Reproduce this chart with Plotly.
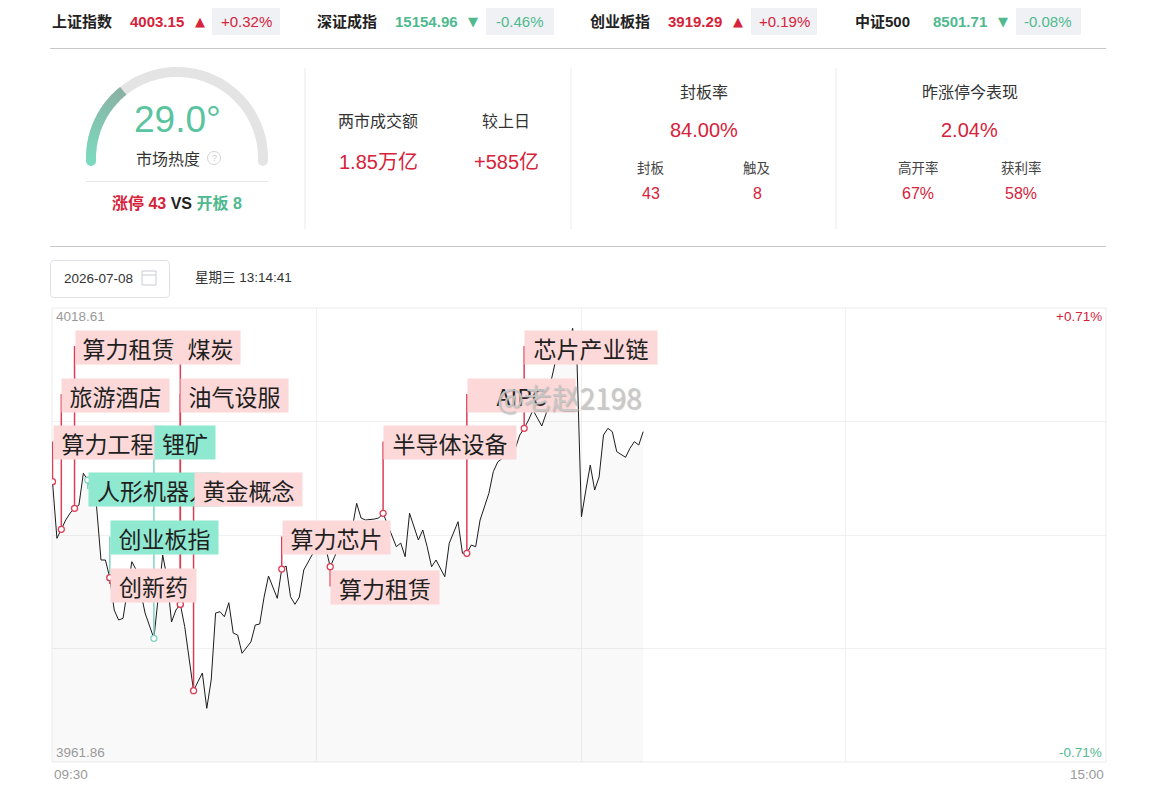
import math
import plotly.graph_objects as go

# ---------------- data ----------------
index_names = ["上证指数", "深证成指", "创业板指", "中证500"]
index_values = ["4003.15", "15154.96", "3919.29", "8501.71"]
index_changes = ["+0.32%", "-0.46%", "+0.19%", "-0.08%"]
index_up = [True, False, True, False]

heat_value = 29.0
limit_up_count = 43
broken_count = 8
turnover_label = "两市成交额"
turnover_value = "1.85万亿"
diff_label = "较上日"
diff_value = "+585亿"
seal_title = "封板率"
seal_rate = "84.00%"
seal_sub_labels = ["封板", "触及"]
seal_sub_values = ["43", "8"]
yest_title = "昨涨停今表现"
yest_value = "2.04%"
yest_sub_labels = ["高开率", "获利率"]
yest_sub_values = ["67%", "58%"]

date_text = "2026-07-08"
time_text = "星期三 13:14:41"

price_max = 4018.61
price_min = 3961.86
pct_top = "+0.71%"
pct_bottom = "-0.71%"
time_start = "09:30"
time_end = "15:00"

# intraday index (minutes after 09:30, trading minutes; price)
minutes = [0, 1, 2, 3, 4, 5, 6, 7, 8, 9, 10, 11, 12, 13, 14, 15, 16, 18, 19, 20,
           21, 23, 25, 26, 27, 28, 29, 30, 32, 33, 34, 35, 36, 37, 38, 39, 40, 41, 42, 43,
           44, 45, 46, 47, 48, 49, 51, 52, 53, 54, 55, 56, 57, 59, 60, 61, 62, 63, 64, 65,
           68, 69, 70, 71, 73, 74, 75, 78, 79, 80, 81, 83, 84, 85, 86, 87, 89, 90, 92, 93,
           94, 95, 96, 97, 99, 100, 101, 103, 104, 105, 106, 107, 108, 109, 111, 112, 113, 114, 115, 116,
           117, 118, 119, 120, 121, 122, 123, 124, 125, 126, 127, 128, 130, 131, 132, 133, 134]
prices = [3996.90, 3989.82, 3990.95, 3992.11, 3992.98, 3993.57, 3993.98, 3997.95, 3997.11, 3995.23,
          3993.77, 3987.11, 3987.11, 3984.90, 3980.86, 3979.61, 3979.82, 3986.90, 3985.86, 3983.36,
          3980.48, 3977.32, 3987.73, 3984.86, 3979.36, 3980.86, 3981.57, 3978.77, 3970.77, 3971.90,
          3972.98, 3968.57, 3972.11, 3980.48, 3980.65, 3980.02, 3981.77, 3977.98, 3977.73, 3975.45,
          3976.23, 3976.86, 3978.98, 3979.11, 3982.48, 3985.11, 3982.32, 3985.98, 3986.36, 3982.52,
          3981.57, 3982.48, 3985.86, 3987.86, 3989.36, 3989.61, 3988.61, 3986.27, 3987.52, 3988.98,
          3991.11, 3994.20, 3992.36, 3992.11, 3992.23, 3992.36, 3992.95, 3988.77, 3989.23, 3987.52,
          3992.95, 3989.61, 3990.86, 3988.77, 3986.27, 3987.11, 3985.02, 3989.20, 3991.90, 3987.95,
          3987.95, 3988.98, 3988.77, 3992.11, 3995.45, 3998.15, 3999.36, 4000.23, 4000.86, 4001.07,
          4002.73, 4003.57, 4004.61, 4005.86, 4003.86, 4005.45, 4009.23, 4011.70, 4013.11, 4014.36,
          4013.86, 4016.07, 4011.70, 3992.52, 3995.86, 3998.98, 3995.86, 3997.48, 4002.73, 4003.57,
          4003.15, 4000.65, 3999.95, 4001.07, 4001.90, 4001.48, 4003.15]

# sector events on the curve
event_names = ["算力工程", "旅游酒店", "算力租赁", "人形机器人", "创业板指", "创新药", "锂矿",
               "煤炭", "油气设服", "黄金概念", "算力芯片", "算力租赁", "半导体设备", "AIPC", "芯片产业链"]
event_minutes = [0, 2, 5, 8, 13, 13, 23, 29, 29, 32, 52, 63, 75, 94, 107]
event_kinds = ["up", "up", "up", "down", "down", "up", "down",
               "up", "up", "up", "up", "up", "up", "up", "up"]

# ---------------- layout config (pixels) ----------------
W, H = 1150, 789
PX0, PX1, PY0, PY1 = 52, 1106, 308, 762
ORIGIN, PPM = 52.5, 4.408
label_tops = [425, 377.5, 329.5, 472.5, 520, 567.5, 425, 329.5, 377.5, 472.5, 520, 570, 425, 377.5, 329.5]
label_widths = [107, 107, 105, 131, 107, 85, 60, 59, 107, 107, 107, 108, 132, 107, 132]
LABEL_H = 33

RED = "#d6223a"
TEAL = "#4fb98f"
GREY_TXT = "#9a9a9a"
DARK = "#222222"
FONT = "Liberation Sans, Noto Sans CJK SC, sans-serif"
CJK = "Noto Sans CJK SC, sans-serif"


def fx(x):
    return x / W


def fy(y):
    return 1 - y / H


def price_at_px(ypx):
    return price_max - (ypx - PY0) / (PY1 - PY0) * (price_max - price_min)


annotations = []
shapes = []


def txt(x, y, text, size, color, xanchor="center", bold=False, family=FONT):
    annotations.append(dict(x=fx(x), y=fy(y), xref="paper", yref="paper", text=text,
                            showarrow=False, xanchor=xanchor, yanchor="middle",
                            font=dict(size=size, color=color, family=family,
                                      weight="bold" if bold else "normal")))


def hline(x0, x1, y, color, width=1):
    shapes.append(dict(type="line", xref="paper", yref="paper", x0=fx(x0), x1=fx(x1),
                       y0=fy(y), y1=fy(y), line=dict(color=color, width=width)))


def vline(x, y0, y1, color, width=1):
    shapes.append(dict(type="line", xref="paper", yref="paper", x0=fx(x), x1=fx(x),
                       y0=fy(y0), y1=fy(y1), line=dict(color=color, width=width)))


def rect(x0, y0, x1, y1, fill, line=None):
    shapes.append(dict(type="rect", xref="paper", yref="paper", x0=fx(x0), x1=fx(x1),
                       y0=fy(y1), y1=fy(y0), fillcolor=fill,
                       line=dict(color=line or fill, width=1 if line else 0)))


def circle(cx, cy, r, fill, line=None, lw=1):
    shapes.append(dict(type="circle", xref="paper", yref="paper", x0=fx(cx - r), x1=fx(cx + r),
                       y0=fy(cy + r), y1=fy(cy - r), fillcolor=fill,
                       line=dict(color=line or fill, width=lw if line else 0)))


def rrect_path(x0, y0, x1, y1, r):
    p = lambda x, y: f"{fx(x):.5f},{fy(y):.5f}"
    return (f"M {p(x0 + r, y0)} L {p(x1 - r, y0)} Q {p(x1, y0)} {p(x1, y0 + r)} "
            f"L {p(x1, y1 - r)} Q {p(x1, y1)} {p(x1 - r, y1)} L {p(x0 + r, y1)} "
            f"Q {p(x0, y1)} {p(x0, y1 - r)} L {p(x0, y0 + r)} Q {p(x0, y0)} {p(x0 + r, y0)} Z")


# ---------------- header row ----------------
hdr_x = [(50, 128, 193, (212, 280), 246), (315, 393, 466, (486, 554), 520),
         (588, 666, 731, (751, 817), 784), (853, 931, 996, (1016, 1081), 1048)]
for (nx, vx, ax, (bx0, bx1), cx), name, val, chg, up in zip(hdr_x, index_names, index_values,
                                                            index_changes, index_up):
    col = RED if up else TEAL
    rect(bx0, 8, bx1, 35, "#f0f1f5")
    txt(nx, 21, name, 15, DARK, "left", True)
    txt(vx, 21, val, 15, col, "left", True)
    txt(ax, 21, "▲" if up else "▼", 13, col, "left", False, "DejaVu Sans")
    txt(cx, 21, chg, 15, col, "center", False)

hline(50, 1106, 48.5, "#c8c8c8")
hline(50, 1106, 246.5, "#c8c8c8")

# ---------------- gauge ----------------
GCX, GCY, GR = 177, 158, 86
A0, A1 = 182, -2


def arc_path(a_start, a_end, n):
    pts = []
    for i in range(n + 1):
        a = math.radians(a_start + (a_end - a_start) * i / n)
        pts.append((GCX + GR * math.cos(a), GCY - GR * math.sin(a)))
    return "M " + " L ".join(f"{fx(x):.5f},{fy(y):.5f}" for x, y in pts), pts


gp, gpts = arc_path(A0, A1, 80)
shapes.append(dict(type="path", xref="paper", yref="paper", path=gp,
                   line=dict(color="#e4e4e4", width=10)))
circle(gpts[-1][0], gpts[-1][1], 5, "#e4e4e4")
a_val = A0 - (A0 - A1) * heat_value / 100
nseg = 14
c0, c1 = (124, 217, 190), (138, 178, 164)
for i in range(nseg):
    sa = A0 + (a_val - A0) * i / nseg
    ea = A0 + (a_val - A0) * (i + 1.15) / nseg if i < nseg - 1 else a_val
    f = i / (nseg - 1)
    col = "rgb(%d,%d,%d)" % tuple(int(c0[k] + (c1[k] - c0[k]) * f) for k in range(3))
    sp, spts = arc_path(sa, ea, 6)
    shapes.append(dict(type="path", xref="paper", yref="paper", path=sp,
                       line=dict(color=col, width=10)))
    if i == 0:
        circle(spts[0][0], spts[0][1], 5, col)

txt(177, 119, f"{heat_value:.1f}°", 37, "#5ac39f")
txt(168, 158, "市场热度", 16, "#333333", family=CJK)
circle(214, 158, 6.5, "rgba(0,0,0,0)", "#d4d4d4", 1)
txt(214, 158, "?", 9, "#c8c8c8")
hline(86, 268, 181.5, "#e6e6e6")
txt(177, 203, f"<span style='color:{RED}'>涨停 {limit_up_count}</span> VS "
              f"<span style='color:{TEAL}'>开板 {broken_count}</span>", 16, DARK, bold=True)

for vx in (305, 571, 836):
    vline(vx, 68, 229, "#ebebeb")

txt(378, 120, turnover_label, 16, "#333333", family=CJK)
txt(506, 120, diff_label, 16, "#333333", family=CJK)
txt(378, 162, turnover_value, 20, RED)
txt(506, 162, diff_value, 20, RED)

txt(704, 91, seal_title, 16, "#333333", family=CJK)
txt(704, 130, seal_rate, 20, RED)
for sx, lab, val in zip((651, 757), seal_sub_labels, seal_sub_values):
    txt(sx, 167, lab, 13.5, "#444444", family=CJK)
    txt(sx, 193, val, 16, RED)

txt(970, 91, yest_title, 16, "#333333", family=CJK)
txt(969, 130, yest_value, 20, RED)
for sx, lab, val in zip((918, 1021), yest_sub_labels, yest_sub_values):
    txt(sx, 167, lab, 13.5, "#444444", family=CJK)
    txt(sx, 193, val, 16, RED)

# ---------------- date bar ----------------
shapes.append(dict(type="path", xref="paper", yref="paper", path=rrect_path(50.5, 260.5, 169.5, 297.5, 4),
                   line=dict(color="#dcdfe6", width=1), fillcolor="white"))
txt(62, 278.5, date_text, 13.5, "#333333", "left")
rect(142, 271, 156, 285, "rgba(0,0,0,0)", "#c9ccd3")
hline(142, 156, 275, "#c9ccd3")
txt(193, 277.5, time_text, 13.5, "#333333", "left")

# ---------------- chart frame ----------------
shapes.append(dict(type="rect", xref="paper", yref="paper", x0=fx(PX0), x1=fx(PX1),
                   y0=fy(PY1), y1=fy(PY0), line=dict(color="#ececec", width=1), layer="below"))

txt(54, 316, f"{price_max:.2f}", 13.5, GREY_TXT, "left")
txt(54, 752, f"{price_min:.2f}", 13.5, GREY_TXT, "left")
txt(1104, 316, pct_top, 13.5, RED, "right")
txt(1104, 752, pct_bottom, 13.5, TEAL, "right")
txt(52, 774, time_start, 13.5, GREY_TXT, "left")
txt(1106, 774, time_end, 13.5, GREY_TXT, "right")

# ---------------- traces ----------------
fig = go.Figure()
fig.add_trace(go.Scatter(x=minutes, y=prices, mode="lines", line=dict(color="#1c1c1c", width=1),
                         fill="tozeroy", fillcolor="rgba(0,0,0,0.022)", hoverinfo="skip"))

price_lookup = dict(zip(minutes, prices))
ev_prices = [price_lookup[m] for m in event_minutes]

for kind, col in (("up", "#de3d56"), ("down", "#7fd3bf")):
    sx, sy = [], []
    for m, p, k, top in zip(event_minutes, ev_prices, event_kinds, label_tops):
        if k != kind:
            continue
        sx += [m, m, None]
        sy += [p, price_at_px(top + LABEL_H / 2), None]
    fig.add_trace(go.Scatter(x=sx, y=sy, mode="lines", line=dict(color=col, width=1.5),
                             hoverinfo="skip", cliponaxis=False))

for kind, col in (("down", "#7fd3bf"), ("up", "#de3d56")):
    mx = [m for m, k in zip(event_minutes, event_kinds) if k == kind]
    my = [p for p, k in zip(ev_prices, event_kinds) if k == kind]
    fig.add_trace(go.Scatter(x=mx, y=my, mode="markers", hoverinfo="skip",
                             marker=dict(symbol="circle", size=6, color="white",
                                         line=dict(color=col, width=1.3))))

# labels
for name, m, kind, top, wdt in zip(event_names, event_minutes, event_kinds, label_tops, label_widths):
    annotations.append(dict(x=m, xref="x", y=fy(top), yref="paper", xanchor="left", yanchor="top",
                            text=name, showarrow=False, width=wdt, height=LABEL_H, borderpad=0,
                            bgcolor="#fcd8d8" if kind == "up" else "#8fe8d0",
                            font=dict(size=23, color="#1f1f1f", family=CJK)))

# watermark
circle(482, 397, 11, "rgba(255,255,255,0.5)", "rgba(185,185,185,0.85)", 2.5)
circle(485, 395, 4, "rgba(0,0,0,0)", "rgba(185,185,185,0.85)", 2)
annotations.append(dict(x=fx(495), y=fy(397), xref="paper", yref="paper", xanchor="left",
                        yanchor="middle", text="@老赵2198", showarrow=False,
                        font=dict(size=28, color="rgba(200,200,200,0.92)", family=CJK,
                                  shadow="1px 1px 1px rgba(150,150,150,0.6)")))

fig.update_layout(
    width=W, height=H, autosize=False,
    margin=dict(l=0, r=0, t=0, b=0),
    paper_bgcolor="white", plot_bgcolor="white",
    showlegend=False,
    xaxis=dict(domain=[fx(PX0), fx(PX1)], range=[(PX0 - ORIGIN) / PPM, (PX1 - ORIGIN) / PPM],
               tickvals=[60, 120, 180], showticklabels=False, showgrid=True,
               gridcolor="#f0f0f0", zeroline=False, showline=False, fixedrange=True),
    yaxis=dict(domain=[fy(PY1), fy(PY0)], range=[price_min, price_max],
               tickvals=[price_min + (price_max - price_min) * q for q in (0.25, 0.5, 0.75)],
               showticklabels=False, showgrid=True, gridcolor="#f0f0f0", zeroline=False,
               showline=False, fixedrange=True),
    shapes=shapes,
    annotations=annotations,
)

fig.write_html("out.html")
